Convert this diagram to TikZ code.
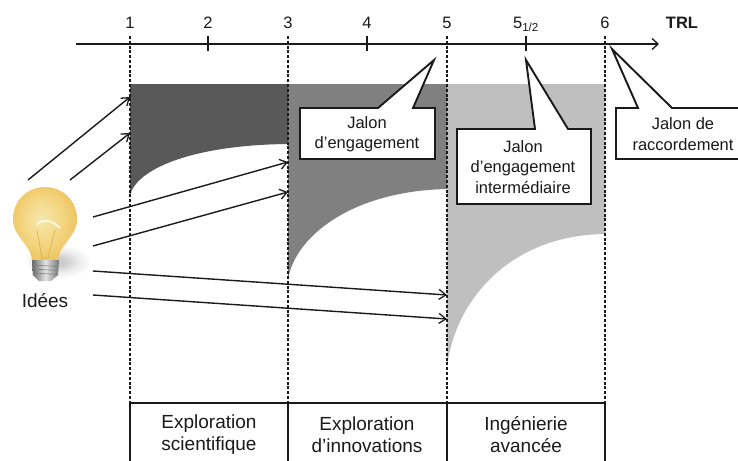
\documentclass[tikz,border=0pt]{standalone}
\usepackage{fontspec}
\setmainfont{Liberation Sans}
\usetikzlibrary{arrows.meta,calc}
\definecolor{inkc}{HTML}{1A1A1A}
\definecolor{bandA}{HTML}{595959}
\definecolor{bandB}{HTML}{808080}
\definecolor{bandC}{HTML}{BFBFBF}
\definecolor{glassA}{HTML}{F6E7AE}
\definecolor{glassB}{HTML}{F3D580}
\definecolor{glassC}{HTML}{EBBB50}
\definecolor{glassD}{HTML}{BE8C2A}
\pgfdeclareradialshading{bulbshade}{\pgfpoint{-3bp}{4bp}}{
  color(0bp)=(glassA);
  color(16bp)=(glassB);
  color(33bp)=(glassC);
  color(44bp)=(glassD);
  color(50bp)=(glassD)}
\tikzset{
  every node/.style={text=inkc},
  ticklab/.style={font=\fontsize{16.5}{20}\selectfont,inner sep=0pt},
  lab/.style={font=\fontsize{16.5}{20.5}\selectfont,align=center,inner sep=0pt},
  phase/.style={font=\fontsize{19}{22}\selectfont,align=center,inner sep=0pt},
  axisline/.style={draw=inkc,line width=1.5pt},
  tickline/.style={draw=inkc,line width=1.4pt},
  guide/.style={draw=inkc,line width=1.1pt,dash pattern=on 3pt off 1.8pt},
  idea/.style={draw=inkc,line width=1.4pt,-{Straight Barb[length=7pt,width=10pt,line width=1.3pt]}},
  balloon/.style={draw=inkc,fill=white,line width=1.9pt,line join=miter},
  phasebox/.style={draw=inkc,line width=1.9pt},
}
\begin{document}
\begin{tikzpicture}[x=1pt,y=-1pt]
\useasboundingbox (0,0) rectangle (738,460);
\clip (0,0) rectangle (738,460);
\fill[white] (0,0) rectangle (738,460);

% bands
\fill[bandA] (130,84) -- (288,84) -- (288,144) .. controls (190,145) and (135,170) .. (130,196) -- cycle;
\fill[bandB] (288,84) -- (447,84) -- (447,189) .. controls (350,191) and (294,238) .. (288,280) -- cycle;
\fill[bandC] (447,84) -- (605,84) -- (605,234) .. controls (510,235) and (455,300) .. (447,367) -- cycle;

% axis
\coordinate (axS) at (76,44);
\coordinate (axE) at (659,44);
\draw[axisline,-{Straight Barb[length=6pt,width=11pt,line width=1.3pt]}] (axS) -- (axE);
\foreach \n/\x in {1/130,2/208,3/288,4/367,5/447,6/605}{
  \coordinate (t\n) at (\x,44);
  \node[ticklab] (lab\n) at (\x,23) {\n};
}
\coordinate (t55) at (526,44);
\node[ticklab,anchor=base] (lab55) at (526,29) {5\textsubscript{1/2}};
\node[ticklab,font=\fontsize{16.5}{20}\selectfont\bfseries] (labT) at (682,23) {TRL};
\draw[tickline] (208,36) -- (208,51);
\draw[tickline] (367,36) -- (367,51);
\draw[tickline] (526,36) -- (526,51);

% guides and phase boxes
\foreach \n/\x in {1/130,3/288,5/447,6/605}{
  \coordinate (top\n) at (\x,36);
  \coordinate (box\n) at (\x,403);
  \draw[guide] (top\n) -- (box\n);
}
\draw[phasebox] (130,470) -- (box1) -- (box6) -- (605,470);
\draw[phasebox] (box3) -- (288,470);
\draw[phasebox] (box5) -- (447,470);
\node[phase] (p1) at (209,435) {Exploration\\scientifique};
\node[phase] (p2) at (367,435) {Exploration\\d’innovations};
\node[phase] (p3) at (526,435) {Ingénierie\\avancée};

% bulb
\foreach \r/\g in {1/2,0.9/4,0.8/6,0.7/8,0.6/11,0.5/14,0.4/17,0.3/20}{
  \fill[black!\g] (58,262) ellipse ({32*\r} and {16*\r});
}
\path[shading=bulbshade]
  (32,262) .. controls (32,244) and (13,238) .. (13,219)
  .. controls (13,201) and (27,187) .. (45,187)
  .. controls (63,187) and (77,201) .. (77,219)
  .. controls (77,238) and (58,244) .. (58,262) -- cycle;
\draw[white,line width=1.4pt,line cap=round] (37,224) .. controls (43,219) and (52,220) .. (60,228);
\draw[glassD,line width=0.6pt,opacity=.55] (37,230) -- (42,258) (55,230) -- (48,258) (42,258) -- (48,258);
\path[left color=black!60,right color=black!55,middle color=black!10] (32,260) -- (59,260) -- (58,275) -- (51,281) -- (39,281) -- (33,275) -- cycle;
\foreach \y in {265,269,273}{\draw[black!50,line width=0.6pt] (32.5,\y) -- (58,\y+1.5);}
\node[phase] (idees) at (45,301) {Idées};

% idea arrows
\coordinate (i1) at (28,180); \coordinate (i2) at (70,180);
\coordinate (i3) at (93,217); \coordinate (i4) at (93,246);
\coordinate (i5) at (93,271); \coordinate (i6) at (93,295);
\coordinate (e1) at (130,97); \coordinate (e2) at (130,133);
\coordinate (e3) at (288,162); \coordinate (e4) at (288,192);
\coordinate (e5) at (447,295); \coordinate (e6) at (447,319);
\foreach \k in {1,...,6}{\draw[idea] (i\k) -- (e\k);}

% callouts
\coordinate (tipA) at (434,60);
\draw[balloon] (300,108) -- (378,108) -- (tipA) -- (413,108) -- (435,108) -- (435,159) -- (300,159) -- cycle;
\node[lab] (ca) at (367,134) {Jalon\\d’engagement};
\coordinate (tipB) at (526,60);
\draw[balloon] (457,129) -- (535,129) -- (tipB) -- (568,129) -- (591,129) -- (591,204) -- (457,204) -- cycle;
\node[lab] (cb) at (523,167) {Jalon\\d’engagement\\intermédiaire};
\coordinate (tipC) at (612,49);
\draw[balloon] (616,108) -- (638,108) -- (tipC) -- (672,108) -- (745,108) -- (745,159) -- (616,159) -- cycle;
\node[lab] (cc) at (683,134) {Jalon de\\raccordement};
\end{tikzpicture}
\end{document}
